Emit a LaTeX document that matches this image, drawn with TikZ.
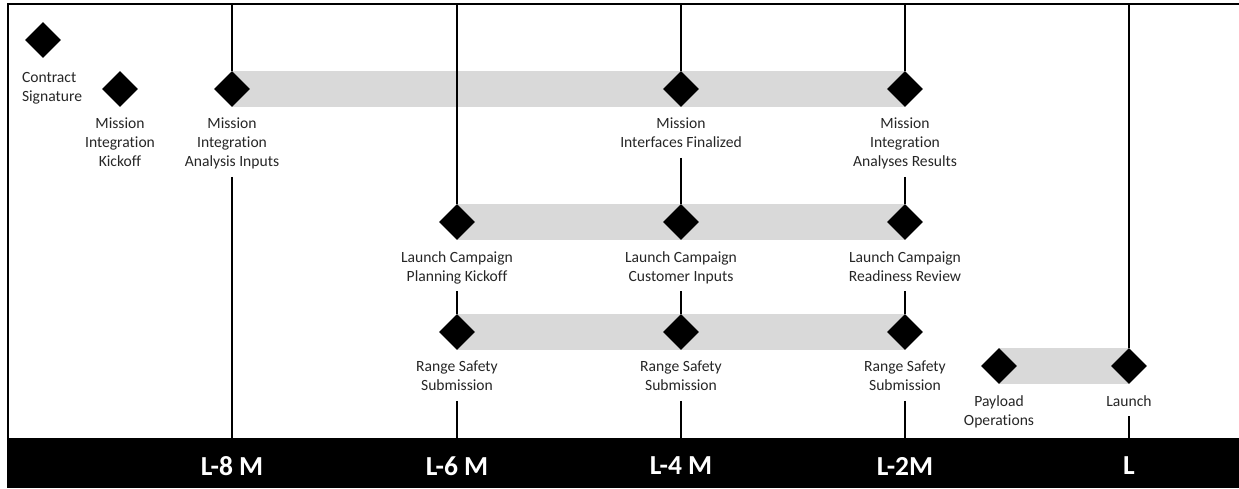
\documentclass[tikz,border=0pt]{standalone}
\usepackage{fontspec}
\setmainfont{Carlito}[Ligatures=NoCommon]
\usetikzlibrary{positioning, shapes.geometric, backgrounds}
\definecolor{bargray}{RGB}{217,217,217}
\definecolor{inkgray}{RGB}{38,38,38}
\tikzset{
ms/.style={diamond, fill=black, inner sep=0pt, minimum size=36pt},
lbl/.style={align=center, text=inkgray, font=\fontsize{15.6}{19}\selectfont, inner sep=1pt, outer sep=5pt, text depth=4pt},
tm/.style={text=white, font=\fontsize{27.5}{32}\bfseries\selectfont},
}

\begin{document}
\begin{tikzpicture}[x=1pt, y=-1pt]
            \useasboundingbox (0,0) rectangle (1239,488);
            % frame and time axis
            \fill (7,438) rectangle (1239,488);
            \draw[line width=2pt] (1239,4) -- (8,4) -- (8,438);
            \foreach \x in {232,457,681,905,1129} {
                \coordinate (t\x) at (\x,4);
                \coordinate (b\x) at (\x,438);
            }
            \node[tm] (m8) at (232,466) {L-8 M};
            \node[tm] (m6) at (457,466) {L-6 M};
            \node[tm] (m4) at (681,466) {L-4 M};
            \node[tm] (m2) at (905,466) {L-2M};
            \node[tm] (m0) at (1129,466) {L};
            % milestones
            \node[ms] (cs) at (43,40) {};
            \node[lbl, align=left, anchor=north west] (cs-l) at (16,66) {Contract\\Signature};
            \node[ms] (mk) at (120,89) {};
            \node[lbl, below=5pt of mk] (mk-l) {Mission\\Integration\\Kickoff};
            \node[ms] (ma) at (232,89) {};
            \node[lbl, below=5pt of ma] (ma-l) {Mission\\Integration\\Analysis Inputs};
            \node[ms] (mf) at (681,89) {};
            \node[lbl, below=5pt of mf] (mf-l) {Mission\\Interfaces Finalized};
            \node[ms] (mr) at (905,89) {};
            \node[lbl, below=5pt of mr] (mr-l) {Mission\\Integration\\Analyses Results};
            \node[ms] (lk) at (457,222) {};
            \node[lbl, below=5pt of lk] (lk-l) {Launch Campaign\\Planning Kickoff};
            \node[ms] (li) at (681,222) {};
            \node[lbl, below=5pt of li] (li-l) {Launch Campaign\\Customer Inputs};
            \node[ms] (lr) at (905,222) {};
            \node[lbl, below=5pt of lr] (lr-l) {Launch Campaign\\Readiness Review};
            \node[ms] (rs1) at (457,332) {};
            \node[lbl, below=5pt of rs1] (rs1-l) {Range Safety\\Submission};
            \node[ms] (rs2) at (681,332) {};
            \node[lbl, below=5pt of rs2] (rs2-l) {Range Safety\\Submission};
            \node[ms] (rs3) at (905,332) {};
            \node[lbl, below=5pt of rs3] (rs3-l) {Range Safety\\Submission};
            \node[ms] (po) at (999,366) {};
            \node[lbl, below=5pt of po] (po-l) {Payload\\Operations};
            \node[ms] (la) at (1129,366) {};
            \node[lbl, below=5pt of la] (la-l) {Launch};
            % phase bars
            \begin{scope}[on background layer]
                \fill[bargray] (ma.north) rectangle (mr.south);
                \fill[bargray] (lk.north) rectangle (lr.south);
                \fill[bargray] (rs1.north) rectangle (rs3.south);
                \fill[bargray] (po.north) rectangle (la.south);
            \end{scope}
            % time lines
            \draw[-, line width=1.5pt] (t232) -- (ma);
            \draw[-, line width=1.5pt] (ma-l.south) -- (b232);
            \draw[-, line width=1.5pt] (t457) -- (lk);
            \draw[-, line width=1.5pt] (lk-l.south) -- (rs1);
            \draw[-, line width=1.5pt] (rs1-l.south) -- (b457);
            \draw[-, line width=1.5pt] (t681) -- (mf);
            \draw[-, line width=1.5pt] (mf-l.south) -- (li);
            \draw[-, line width=1.5pt] (li-l.south) -- (rs2);
            \draw[-, line width=1.5pt] (rs2-l.south) -- (b681);
            \draw[-, line width=1.5pt] (t905) -- (mr);
            \draw[-, line width=1.5pt] (mr-l.south) -- (lr);
            \draw[-, line width=1.5pt] (lr-l.south) -- (rs3);
            \draw[-, line width=1.5pt] (rs3-l.south) -- (b905);
            \draw[-, line width=1.5pt] (t1129) -- (la);
            \draw[-, line width=1.5pt] (la-l.south) -- (b1129);
        \end{tikzpicture}
\end{document}
